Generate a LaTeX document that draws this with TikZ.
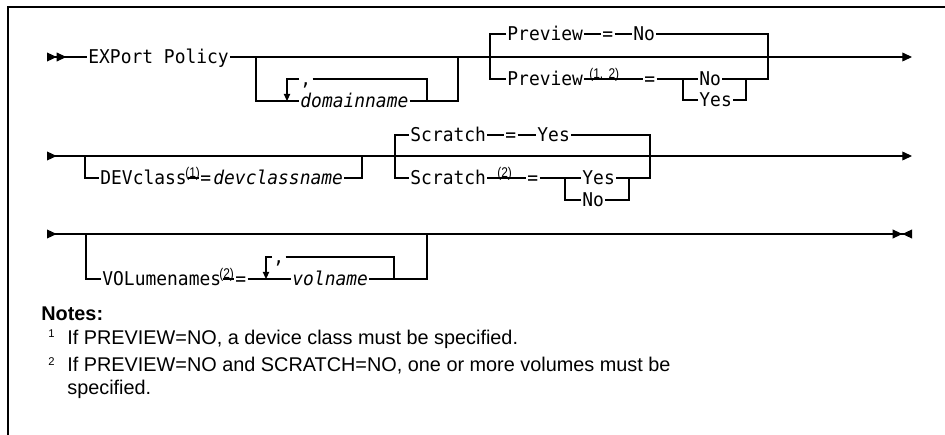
\documentclass[tikz,border=0pt]{standalone}
\usepackage{fontspec}
\setmainfont{Liberation Sans}
\newfontfamily\synfont[FakeStretch=0.945]{DejaVu Sans Mono}
\newfontfamily\supfont[FakeStretch=0.85]{Liberation Sans}
\usepackage{tikz}
\usetikzlibrary{arrows.meta}
\tikzset{
  rail/.style={line width=0.6pt},
  kw/.style={font=\synfont\fontsize{10.8}{12}\selectfont, inner xsep=0.6pt, inner ysep=0pt,
    text height=7.8pt, text depth=0pt, anchor=west},
  var/.style={kw, font=\synfont\itshape\fontsize{10.8}{12}\selectfont},
  supnum/.style={font=\supfont\fontsize{8}{9}\selectfont, inner sep=0pt, anchor=south west},
  notetext/.style={font=\fontsize{11.3}{13.1}\selectfont, inner sep=0pt, anchor=base west},
  notenum/.style={font=\fontsize{6.4}{8}\selectfont, inner sep=0pt, anchor=base west},
}

\begin{document}
\begin{tikzpicture}[x=0.02cm, y=-0.02cm,
    tip/.style={line width=0.6pt, -{Triangle[length=5.5pt,width=5pt]}},
    loop/.style={line width=0.6pt, -{Triangle[length=4pt,width=3.6pt]}}]
  \useasboundingbox (0,0) rectangle (945,435);
  \draw[line width=1.1pt] (8,435) -- (8,7) -- (945,7);

  % first row
  \coordinate (r1s) at (47,57);
  \coordinate (r1e) at (912,57);
  \node[kw] (exp) at (87,57) {EXPort Policy};
  \draw[rail, {Triangle[reversed,length=5.5pt,width=5pt]Triangle[reversed,length=5.5pt,width=5pt]}-] (r1s) -- (exp.west);
  \draw[tip] (exp.east) -- (r1e);
  \node[kw] (dcom) at (299,79) {,};
  \node[var] (dom) at (299,101) {domainname};
  \draw[rail] (256,57) |- (dom.west);
  \draw[loop] (dcom.west) -| (287,101);
  \draw[rail] (dcom.east) -| (427,101);
  \draw[rail] (dom.east) -| (458,57);
  \node[kw] (pv1) at (506,34) {Preview};
  \node[kw] (pe1) at (601,34) {=};
  \node[kw] (pn1) at (632,34) {No};
  \node[kw] (pv2) at (506,79) {Preview};
  \node[supnum] (ps2) at (589,81.5) {(1,\hspace{3pt}2)};
  \node[kw] (pe2) at (643,79) {=};
  \node[kw] (pn2) at (698,79) {No};
  \node[kw] (py2) at (698,100) {Yes};
  \draw[rail] (pv1.west) -| (490,79) -- (pv2.west);
  \draw[rail] (pv1.east) -- (pe1.west);
  \draw[rail] (pe1.east) -- (pn1.west);
  \draw[rail] (pn1.east) -| (768,79) -- (pn2.east);
  \draw[rail] (pv2.east) -- (pe2.west);
  \draw[rail] (pe2.east) -- (pn2.west);
  \draw[rail] (py2.west) -| (683,79);
  \draw[rail] (py2.east) -| (746,79);

  % second row
  \coordinate (r2s) at (47,156);
  \coordinate (r2e) at (912,156);
  \draw[tip, {Triangle[reversed,length=5.5pt,width=5pt]}-{Triangle[length=5.5pt,width=5pt]}] (r2s) -- (r2e);
  \node[kw] (dev) at (99,178) {DEVclass};
  \node[supnum] (ds) at (185,180.5) {(1)};
  \node[kw] (deq) at (199,178) {=};
  \node[var] (dvar) at (212,178) {devclassname};
  \draw[rail] (85,156) |- (dev.west);
  \draw[rail] (dev.east) -- (deq.west);
  \draw[rail] (dvar.east) -| (362,156);
  \node[kw] (sc1) at (409,135) {Scratch};
  \node[kw] (se1) at (504,135) {=};
  \node[kw] (sy1) at (536,135) {Yes};
  \node[kw] (sc2) at (409,178) {Scratch};
  \node[supnum] (ss2) at (497,180.5) {(2)};
  \node[kw] (se2) at (526,178) {=};
  \node[kw] (sy2) at (581,178) {Yes};
  \node[kw] (sn2) at (581,200) {No};
  \draw[rail] (sc1.west) -| (395,178) -- (sc2.west);
  \draw[rail] (sc1.east) -- (se1.west);
  \draw[rail] (se1.east) -- (sy1.west);
  \draw[rail] (sy1.east) -| (650,178) -- (sy2.east);
  \draw[rail] (sc2.east) -- (se2.west);
  \draw[rail] (se2.east) -- (sy2.west);
  \draw[rail] (sn2.west) -| (565,178);
  \draw[rail] (sn2.east) -| (629,178);

  % third row
  \coordinate (r3s) at (47,234);
  \coordinate (r3e) at (912,234);
  \draw[rail, {Triangle[reversed,length=5.5pt,width=5pt]}-{Triangle[length=5.5pt,width=5pt]Triangle[reversed,length=5.5pt,width=5pt]}] (r3s) -- (r3e);
  \node[kw] (vol) at (101,279) {VOLumenames};
  \node[supnum] (vs) at (219,281.5) {(2)};
  \node[kw] (veq) at (234,279) {=};
  \node[kw] (vcom) at (272,257) {,};
  \node[var] (vn) at (291,279) {volname};
  \draw[rail] (86,234) |- (vol.west);
  \draw[rail] (vol.east) -- (veq.west);
  \draw[rail] (veq.east) -- (vn.west);
  \draw[loop] (vcom.west) -| (266,279);
  \draw[rail] (vcom.east) -| (394,279);
  \draw[rail] (vn.east) -| (427,234);

  % notes
  \node[notetext, font=\bfseries\fontsize{11.3}{13.1}\selectfont] (nh) at (41,320) {Notes:};
  \node[notenum] (n1) at (48,337) {1};
  \node[notetext] (t1) at (67,344) {If PREVIEW=NO, a device class must be specified.};
  \node[notenum] (n2) at (48,365) {2};
  \node[notetext] (t2) at (67,371) {If PREVIEW=NO and SCRATCH=NO, one or more volumes must be};
  \node[notetext] (t2b) at (67,394) {specified.};
\end{tikzpicture}
\end{document}
